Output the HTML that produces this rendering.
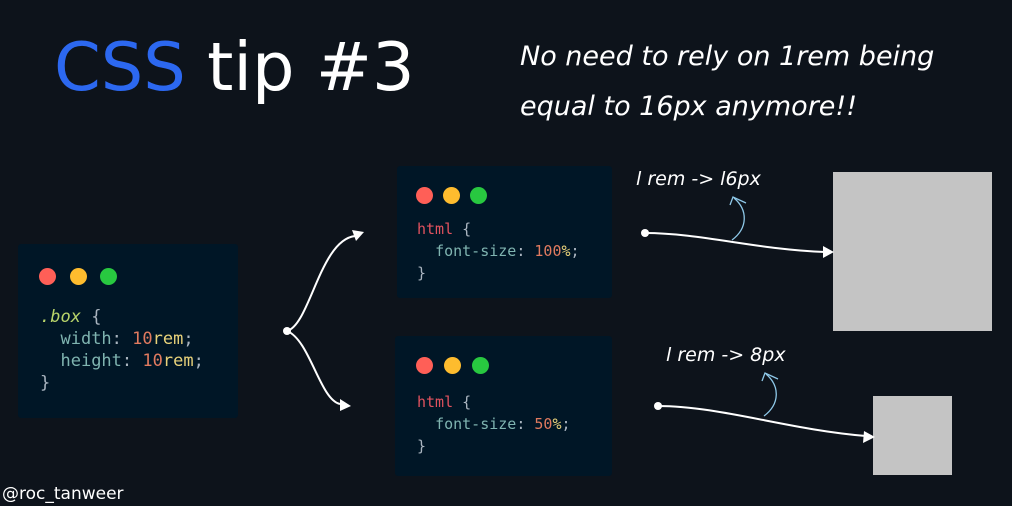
<!DOCTYPE html>
<html><head><style>
*{margin:0;padding:0;box-sizing:border-box}
body{width:1012px;height:506px;background:#0d131b;position:relative;overflow:hidden;font-family:"Liberation Sans",sans-serif}
.p{position:absolute;background:#001626;border-radius:3px}
.dot{position:absolute;width:17px;height:17px;border-radius:50%}
.code{position:absolute;font-family:"DejaVu Sans Mono","Liberation Mono",monospace;font-size:15px;line-height:22px;color:#aab5c0;white-space:pre}
.k{color:#7fb4b0}.n{color:#e07a5f}.u{color:#e8d27a}.s{color:#b8d46a;font-style:italic}.t{color:#e0525e}
.abs{position:absolute;color:#fff}
.gray{position:absolute;background:#c4c4c4}
</style></head><body>
<div class="abs" style="left:54px;top:28px;font-size:67px;font-family:'DejaVu Sans',sans-serif;font-weight:normal"><span style="color:#2c68f0">CSS</span> tip #3</div>
<div class="abs" style="left:520px;top:32px;font-size:27px;line-height:50px;font-style:italic;font-family:'DejaVu Sans',sans-serif;font-weight:300">No need to rely on 1rem being<br>equal to 16px anymore!!</div>

<div class="p" style="left:18px;top:244px;width:220px;height:174px"></div>
<div class="dot" style="left:39px;top:268px;background:#ff5f57"></div>
<div class="dot" style="left:70px;top:268px;background:#febc2e"></div>
<div class="dot" style="left:100px;top:268px;background:#28c840"></div>
<div class="code" style="left:40px;top:306px;font-size:17px"><span class="s">.box</span> {
  <span class="k">width</span>: <span class="n">10</span><span class="u">rem</span>;
  <span class="k">height</span>: <span class="n">10</span><span class="u">rem</span>;
}</div>

<div class="p" style="left:397px;top:166px;width:215px;height:132px"></div>
<div class="dot" style="left:416px;top:187px;background:#ff5f57"></div>
<div class="dot" style="left:443px;top:187px;background:#febc2e"></div>
<div class="dot" style="left:470px;top:187px;background:#28c840"></div>
<div class="code" style="left:417px;top:218px"><span class="t">html</span> {
  <span class="k">font-size</span>: <span class="n">100</span><span class="u">%</span>;
}</div>

<div class="p" style="left:395px;top:336px;width:217px;height:140px"></div>
<div class="dot" style="left:416px;top:357px;background:#ff5f57"></div>
<div class="dot" style="left:444px;top:357px;background:#febc2e"></div>
<div class="dot" style="left:472px;top:357px;background:#28c840"></div>
<div class="code" style="left:417px;top:391px"><span class="t">html</span> {
  <span class="k">font-size</span>: <span class="n">50</span><span class="u">%</span>;
}</div>

<div class="gray" style="left:833px;top:172px;width:159px;height:159px"></div>
<div class="gray" style="left:873px;top:396px;width:79px;height:79px"></div>

<div class="abs" style="left:636px;top:168px;font-size:19px;font-style:italic;font-family:'DejaVu Sans',sans-serif;font-weight:300">l rem -&gt; l6px</div>
<div class="abs" style="left:666px;top:344px;font-size:19px;font-style:italic;font-family:'DejaVu Sans',sans-serif;font-weight:300">l rem -&gt; 8px</div>
<div class="abs" style="left:2px;top:484px;font-size:17px;font-family:'DejaVu Sans',sans-serif">@roc_tanweer</div>

<svg width="1012" height="506" style="position:absolute;left:0;top:0">
<g fill="none" stroke="#fff" stroke-width="2">
<path d="M287 331 C310 325 320 240 355 236"/>
<path d="M287 331 C310 340 320 400 340 404"/>
<path d="M645 233 C700 233 760 250 825 252"/>
<path d="M658 406 C720 406 790 430 866 436"/>
</g>
<g fill="#fff">
<circle cx="287" cy="331" r="4"/><circle cx="645" cy="233" r="4"/><circle cx="658" cy="406" r="4"/>
<path d="M364 232 L352 230 L356 241Z"/>
<path d="M351 406 L340 399 L340 411Z"/>
<path d="M834 252 L823 246 L823 258Z"/>
<path d="M875 437 L864 431 L863 443Z"/>
</g>
<g fill="none" stroke="#8ec8e8" stroke-width="1.3">
<path d="M732 240 C748 228 748 210 734 198"/><path d="M730 205 L733 197 L746 203"/>
<path d="M764 416 C780 404 780 386 766 374"/><path d="M762 381 L765 373 L778 379"/>
</g>
</svg>
</body></html>
